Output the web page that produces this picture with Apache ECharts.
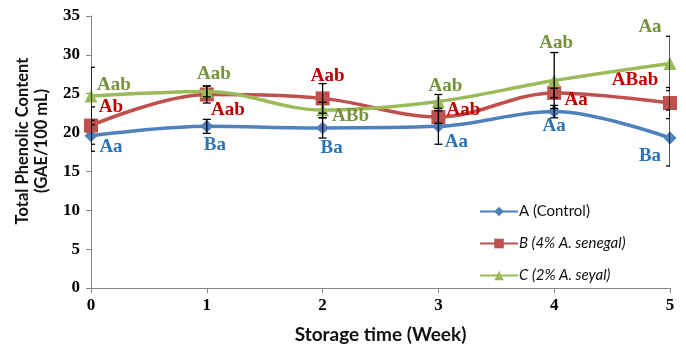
<!DOCTYPE html>
<html>
<head>
<meta charset="utf-8">
<script src="https://cdn.jsdelivr.net/npm/echarts@6/dist/echarts.min.js"></script>
<style>html,body{margin:0;padding:0;background:#fff}#c{width:686px;height:349px}</style>
</head>
<body>
<div id="c"></div>
<script>
var weeks = [0, 1, 2, 3, 4, 5];
var seriesNames = ['A (Control)', 'B (4% A. senegal)', 'C (2% A. seyal)'];
var valuesA = [19.6, 20.8, 20.6, 20.8, 22.7, 19.3];
var valuesB = [20.9, 24.9, 24.4, 22.0, 25.1, 23.8];
var valuesC = [24.7, 25.3, 22.9, 24.0, 26.7, 28.9];
var errA = [2.0, 0.9, 1.3, 2.3, 0.8, 3.6];
var errB = [2.4, 1.1, 1.9, 0.8, 0.6, 2.0];
var errC = [3.7, 0.7, 1.0, 0.9, 3.6, 3.5];
var lettersA = ['Aa', 'Ba', 'Ba', 'Aa', 'Aa', 'Ba'];
var lettersB = ['Ab', 'Aab', 'Aab', 'Aab', 'Aa', 'ABab'];
var lettersC = ['Aab', 'Aab', 'ABb', 'Aab', 'Aab', 'Aa'];
var yTicks = [0, 5, 10, 15, 20, 25, 30, 35];

// label placement (pixel offsets from each point)
var offA = [[20, 11], [8, 19], [9, 20], [18, 16], [0, 15], [-20, 18]];
var offB = [[20, -18], [21, 16], [5, -22], [25, -7], [22, 7], [-35, -23]];
var offC = [[23, -11], [7, -17], [28, 6], [7, -15], [2, -37], [-20, -36]];

var lineColors = ['#4F81BD', '#C0504D', '#9BBB59'];
var textColors = ['#2E75B6', '#C00000', '#77933C'];
var symbols = ['diamond', 'rect', 'triangle'];
var symbolSizes = [13, 14, 13];

function buildData(vals, letters, offs, color) {
  return weeks.map(function (w, i) {
    return {
      value: [w, vals[i]],
      label: {
        show: true, position: 'inside', offset: offs[i],
        formatter: letters[i], color: color,
        fontFamily: 'Liberation Serif', fontWeight: 'bold', fontSize: 19
      }
    };
  });
}
function buildErr(vals, errs) {
  return weeks.map(function (w, i) { return [w, vals[i] - errs[i], vals[i] + errs[i]]; });
}

var allVals = [valuesA, valuesB, valuesC];
var allErrs = [errA, errB, errC];
var allLetters = [lettersA, lettersB, lettersC];
var allOffs = [offA, offB, offC];

var series = [];
for (var s = 0; s < 3; s++) {
  series.push({
    name: seriesNames[s],
    type: 'line',
    smooth: 0.35,
    symbol: symbols[s],
    symbolSize: symbolSizes[s],
    z: 3 + s,
    lineStyle: { color: lineColors[s], width: 3.5 },
    itemStyle: { color: lineColors[s] },
    emphasis: { disabled: true },
    data: buildData(allVals[s], allLetters[s], allOffs[s], textColors[s])
  });
}
var errData = [];
for (var s2 = 0; s2 < 3; s2++) errData = errData.concat(buildErr(allVals[s2], allErrs[s2]));
series.push({
  type: 'custom',
  z: 10,
  clip: true,
  silent: true,
  renderItem: function (params, api) {
    var top = api.coord([api.value(0), api.value(2)]);
    var bot = api.coord([api.value(0), api.value(1)]);
    var hw = 4;
    var st = { stroke: '#000', lineWidth: 1.3 };
    return {
      type: 'group',
      children: [
        { type: 'line', shape: { x1: top[0], y1: top[1], x2: bot[0], y2: bot[1] }, style: st },
        { type: 'line', shape: { x1: top[0] - hw, y1: top[1], x2: top[0] + hw, y2: top[1] }, style: st },
        { type: 'line', shape: { x1: bot[0] - hw, y1: bot[1], x2: bot[0] + hw, y2: bot[1] }, style: st }
      ]
    };
  },
  encode: { x: 0, y: [1, 2] },
  data: errData
});

var chart = echarts.init(document.getElementById('c'), null, { renderer: 'canvas' });
chart.setOption({
  animation: false,
  backgroundColor: '#fff',
  grid: { left: 91, right: 16, top: 16, bottom: 60 },
  legend: {
    orient: 'vertical',
    left: 474, top: 199,
    itemWidth: 38, itemHeight: 12, itemGap: 17,
    data: seriesNames.map(function (n, i) {
      return { name: n, textStyle: { fontStyle: i === 0 ? 'normal' : 'italic' } };
    }),
    textStyle: { fontFamily: 'Lato', fontSize: 15, color: '#111', padding: [0, 0, 0, -4] }
  },
  xAxis: {
    type: 'value', min: 0, max: 5, interval: 1,
    name: 'Storage time (Week)', nameLocation: 'middle', nameGap: 37,
    nameTextStyle: { fontFamily: 'Lato', fontWeight: 'bold', fontSize: 19, color: '#111' },
    axisLine: { lineStyle: { color: '#868686', width: 1 } },
    axisTick: { show: true, length: 5, lineStyle: { color: '#868686' } },
    axisLabel: { fontFamily: 'Liberation Serif', fontWeight: 'bold', fontSize: 17, color: '#000', margin: 9 },
    splitLine: { show: false }
  },
  yAxis: {
    type: 'value', min: 0, max: 35, interval: 5,
    name: 'Total Phenolic Content\n(GAE/100 mL)', nameLocation: 'middle', nameGap: 40,
    nameTextStyle: { fontFamily: 'Lato', fontWeight: 'bold', fontSize: 16.5, color: '#111', lineHeight: 19, padding: [0, 0, 0, 22] },
    axisLine: { show: true, lineStyle: { color: '#868686', width: 1 } },
    axisTick: { show: true, length: 5, lineStyle: { color: '#868686' } },
    axisLabel: {
      fontFamily: 'Liberation Serif', fontWeight: 'bold', fontSize: 17, color: '#000', margin: 11,
      formatter: function (v) { return yTicks.indexOf(v) >= 0 ? String(v) : ''; }
    },
    splitLine: { show: false }
  },
  series: series
});
</script>
</body>
</html>
